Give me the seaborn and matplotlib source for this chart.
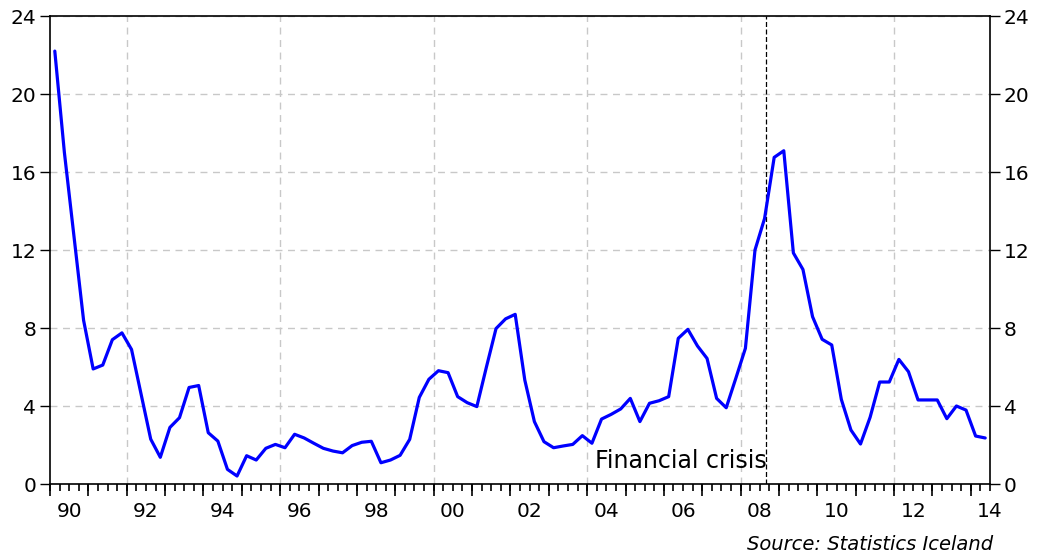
import numpy as np
import pandas as pd
import matplotlib
matplotlib.use('Agg')
import matplotlib.pyplot as plt
import seaborn as sns

sns.set_style('white')
plt.rcParams['font.family'] = ['DejaVu Sans']
plt.rcParams.update({'xtick.color': 'black', 'ytick.color': 'black',
                     'text.color': 'black', 'axes.edgecolor': 'black'})

# quarterly CPI inflation, 1990Q1 - 2014Q2
inflation = [22.2, 17.0, 12.7, 8.4,
             5.9, 6.1, 7.4, 7.75,
             6.9, 4.6, 2.3, 1.37,
             2.9, 3.4, 4.95, 5.05,
             2.63, 2.2, 0.75, 0.41,
             1.45, 1.23, 1.83, 2.03,
             1.86, 2.55, 2.36, 2.09,
             1.83, 1.69, 1.6, 1.97,
             2.14, 2.19, 1.09, 1.23,
             1.47, 2.29, 4.44, 5.37,
             5.81, 5.71, 4.48, 4.17,
             3.97, 6.0, 7.97, 8.47,
             8.7, 5.33, 3.2, 2.17,
             1.86, 1.95, 2.03, 2.48,
             2.09, 3.33, 3.57, 3.85,
             4.39, 3.2, 4.14, 4.27,
             4.48, 7.47, 7.93, 7.08,
             6.44, 4.39, 3.91, 5.42,
             6.96, 12.0, 13.62, 16.75,
             17.09, 11.85, 11.0, 8.58,
             7.42, 7.13, 4.34, 2.77,
             2.05, 3.42, 5.23, 5.23,
             6.39, 5.76, 4.31, 4.31,
             4.31, 3.35, 4.0, 3.79,
             2.46, 2.36]
y_ticks = [0, 4, 8, 12, 16, 20, 24]
x_labels = ['90', '92', '94', '96', '98', '00', '02', '04', '06', '08', '10', '12', '14']
grid_years = [1992, 1996, 2000, 2004, 2008, 2012]
crisis_date = 2008.67
crisis_label = 'Financial crisis'
source_note = 'Source: Statistics Iceland'

periods = pd.period_range('1990Q1', periods=len(inflation), freq='Q')
df = pd.DataFrame({'t': periods.year + (periods.quarter - 0.5) / 4,
                   'inflation': inflation})

x_start, x_end = 1990, 2014.5
quarter_ticks = [x_start + 0.25 * k for k in range(int((x_end - x_start) * 4) + 1)]
year_ticks = list(range(x_start, int(x_end) + 1))
label_pos = [x_start + 0.5 + 2 * k for k in range(len(x_labels))]

fig = plt.figure(figsize=(10.37, 5.57), dpi=100)
ax = fig.add_axes([50 / 1037, 1 - 484 / 557, 940 / 1037, 468 / 557])

# grid lines drawn under the series
ax.yaxis.grid(True, color='#c8c8c8', linestyle=(0, (5, 4)), linewidth=1, zorder=0)
for yr in grid_years:
    ax.axvline(yr, color='#c8c8c8', linestyle=(0, (5, 4)), linewidth=1, zorder=0)
ax.axvline(crisis_date, color='black', linestyle=(0, (4, 2)), linewidth=0.9, zorder=1)

sns.lineplot(data=df, x='t', y='inflation', color='#0000ff', linewidth=2.3, ax=ax, zorder=3)

ax.set_xlim(x_start, x_end)
ax.set_ylim(0, 24)
ax.set_xlabel('')
ax.set_ylabel('')

# y axis labelled on both sides
ax.set_yticks(y_ticks)
ax.tick_params(axis='y', left=True, right=True, labelleft=True, labelright=True,
               direction='out', length=7, width=1, pad=3, labelsize=14.5,
               color='black', labelcolor='black')

# main x axis: short quarter ticks
ax.set_xticks(quarter_ticks)
ax.set_xticklabels([''] * len(quarter_ticks))
ax.tick_params(axis='x', which='major', bottom=True, top=False, direction='out',
               length=5, width=1.2, color='black')

# longer ticks at each year
sec_years = ax.secondary_xaxis('bottom')
sec_years.set_xticks(year_ticks)
sec_years.set_xticklabels([])
sec_years.tick_params(axis='x', bottom=True, direction='out', length=8.5, width=1.2, color='black')
sec_years.spines['bottom'].set_visible(False)

# year labels centred on even years
sec_lab = ax.secondary_xaxis('bottom')
sec_lab.set_xticks(label_pos)
sec_lab.set_xticklabels(x_labels)
sec_lab.tick_params(axis='x', length=0, pad=13, labelsize=14.5, labelcolor='black')
sec_lab.spines['bottom'].set_visible(False)

for side in ['left', 'right', 'top', 'bottom']:
    ax.spines[side].set_visible(True)
    ax.spines[side].set_color('black')
    ax.spines[side].set_linewidth(1.2)

ax.text(crisis_date, 1.2, crisis_label, ha='right', va='center', fontsize=17, color='black')

fig.text(993 / 1037, 1 - 545 / 557, source_note, ha='right', va='center',
         style='italic', fontsize=14, color='black')

fig.savefig('out.png', dpi=100)
